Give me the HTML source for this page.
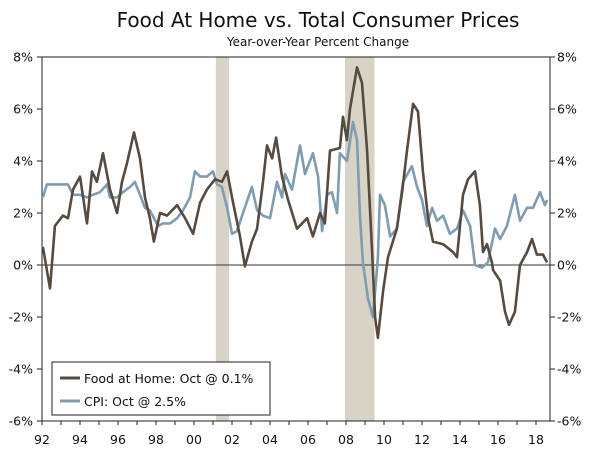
<!DOCTYPE html>
<html><head><meta charset="utf-8"><style>
body{margin:0;background:#fff;}
svg text{font-family:"DejaVu Sans","Liberation Sans",sans-serif;fill:#111;}
</style></head><body>
<svg id="chart" width="600" height="459" viewBox="0 0 600 459" xmlns="http://www.w3.org/2000/svg">
<text x="318" y="27" font-size="20" text-anchor="middle">Food At Home vs. Total Consumer Prices</text>
<text x="318" y="46" font-size="12" text-anchor="middle">Year-over-Year Percent Change</text>
<g id="rec"></g>
<g id="grid"></g>
<g id="series"></g>
<g>
<rect x="52" y="362" width="218" height="53" fill="#fff" stroke="#222" stroke-width="1"/>
<line x1="60" y1="378" x2="80" y2="378" stroke="#574a3f" stroke-width="3"/>
<text x="84" y="383" font-size="12.5">Food at Home: Oct @ 0.1%</text>
<line x1="60" y1="401" x2="80" y2="401" stroke="#7f9db1" stroke-width="3"/>
<text x="84" y="406" font-size="12.5">CPI: Oct @ 2.5%</text>
</g>
</svg>
<script>
const foodYears=[1992.05,1992.42,1992.68,1993.1,1993.37,1993.63,1994.0,1994.37,1994.63,1994.89,1995.21,1995.58,1995.95,1996.21,1996.47,1996.84,1997.16,1997.42,1997.68,1997.89,1998.21,1998.58,1999.11,1999.53,1999.95,2000.32,2000.68,2001.11,2001.47,2001.74,2002.0,2002.42,2002.68,2003.05,2003.32,2003.63,2003.84,2004.11,2004.32,2004.63,2004.95,2005.42,2005.95,2006.26,2006.63,2006.89,2007.16,2007.68,2007.84,2008.05,2008.21,2008.58,2008.84,2009.11,2009.37,2009.53,2009.68,2009.95,2010.21,2010.68,2010.95,2011.21,2011.53,2011.79,2012.05,2012.32,2012.58,2013.11,2013.63,2013.84,2014.16,2014.42,2014.79,2015.05,2015.21,2015.42,2015.68,2015.74,2016.11,2016.37,2016.58,2016.89,2017.16,2017.53,2017.79,2018.05,2018.37,2018.58];
const foodValues=[0.7,-0.9,1.5,1.9,1.8,2.9,3.4,1.6,3.6,3.2,4.3,2.9,2.0,3.2,3.9,5.1,4.1,2.6,1.8,0.9,2.0,1.9,2.3,1.8,1.2,2.4,2.9,3.3,3.2,3.6,2.6,1.1,-0.05,0.9,1.4,3.2,4.6,4.1,4.9,3.4,2.5,1.4,1.8,1.1,2.0,1.6,4.4,4.5,5.7,4.8,6.0,7.6,7.0,4.4,0.6,-2.0,-2.8,-1.0,0.3,1.4,2.8,4.4,6.2,5.9,3.6,1.8,0.9,0.8,0.5,0.3,2.7,3.3,3.6,2.3,0.5,0.8,0.1,-0.2,-0.6,-1.8,-2.3,-1.8,0.0,0.5,1.0,0.4,0.4,0.1];
const cpiYears=[1992.05,1992.26,1993.11,1993.37,1993.63,1994.0,1994.37,1994.68,1995.05,1995.42,1995.58,1995.95,1996.26,1996.63,1996.89,1997.16,1997.42,1997.68,1998.11,1998.37,1998.74,1999.11,1999.42,1999.79,2000.05,2000.32,2000.68,2001.0,2001.21,2001.47,2001.74,2002.0,2002.26,2002.58,2003.05,2003.32,2003.63,2004.0,2004.37,2004.63,2004.79,2005.16,2005.58,2005.84,2006.26,2006.53,2006.74,2007.0,2007.26,2007.53,2007.68,2008.05,2008.37,2008.58,2008.74,2008.89,2009.16,2009.42,2009.68,2009.79,2010.05,2010.32,2010.68,2011.0,2011.47,2011.74,2012.0,2012.26,2012.53,2012.79,2013.11,2013.47,2013.84,2014.16,2014.53,2014.79,2015.16,2015.47,2015.84,2016.11,2016.47,2016.89,2017.16,2017.53,2017.84,2018.21,2018.47,2018.58];
const cpiValues=[2.6,3.1,3.1,3.1,2.7,2.7,2.6,2.7,2.8,3.1,2.6,2.6,2.8,3.0,3.2,2.7,2.2,2.1,1.5,1.6,1.6,1.8,2.1,2.6,3.6,3.4,3.4,3.6,3.1,3.0,2.2,1.2,1.3,2.0,3.0,2.1,1.9,1.8,3.2,2.6,3.5,2.9,4.6,3.5,4.3,3.4,1.3,2.7,2.8,2.0,4.3,4.0,5.5,4.8,1.8,0.1,-1.3,-2.0,0.3,2.7,2.3,1.1,1.4,3.2,3.8,3.0,2.5,1.5,2.2,1.7,1.9,1.2,1.4,2.1,1.5,0.0,-0.1,0.1,1.4,1.0,1.5,2.7,1.7,2.2,2.2,2.8,2.3,2.5];
const recessions=[[2001.15,2001.85],[2007.95,2009.5]];
const yTicks=[8,6,4,2,0,-2,-4,-6];
const xTickYears=[1992,1994,1996,1998,2000,2002,2004,2006,2008,2010,2012,2014,2016,2018];
const xLabels=["92","94","96","98","00","02","04","06","08","10","12","14","16","18"];
const NS="http://www.w3.org/2000/svg";
const L=42,R=550,T=57,B=421;
function xs(y){return L+(y-1992)*19;}
function ys(v){return T+(8-v)*(B-T)/14;}
function mk(tag,attrs,parent){const e=document.createElementNS(NS,tag);for(const k in attrs)e.setAttribute(k,attrs[k]);parent.appendChild(e);return e;}
const rec=document.getElementById('rec');
recessions.forEach(r=>{const e=mk('rect',{x:xs(r[0]),y:T,width:xs(r[1])-xs(r[0]),height:B-T,fill:'#d8d3c7'},rec);

});
const g=document.getElementById('grid');
let a=mk('line',{x1:L,y1:T,x2:R,y2:T,stroke:'#222','stroke-width':1},g);

a=mk('line',{x1:L,y1:T,x2:L,y2:B,stroke:'#222','stroke-width':1},g);

a=mk('line',{x1:R,y1:T,x2:R,y2:B,stroke:'#222','stroke-width':1},g);

a=mk('line',{x1:L,y1:B,x2:R,y2:B,stroke:'#222','stroke-width':1},g);

a=mk('line',{x1:L,y1:ys(0),x2:R,y2:ys(0),stroke:'#333','stroke-width':1},g);

yTicks.forEach(v=>{const y=ys(v);
mk('line',{x1:L-5,y1:y,x2:L,y2:y,stroke:'#222'},g);
mk('line',{x1:R,y1:y,x2:R+5,y2:y,stroke:'#222'},g);
let t=mk('text',{x:L-9,y:y+4.5,'font-size':12.5,'text-anchor':'end'},g);t.textContent=v+'%';

t=mk('text',{x:R+7,y:y+4.5,'font-size':12.5},g);t.textContent=v+'%';
});
for(let yr=1992;yr<=2018;yr++){mk('line',{x1:xs(yr),y1:B,x2:xs(yr),y2:B+4,stroke:'#222'},g);}
xTickYears.forEach((yr,i)=>{const t=mk('text',{x:xs(yr),y:B+23,'font-size':12.5,'text-anchor':'middle'},g);t.textContent=xLabels[i];
});
const s=document.getElementById('series');
function line(xsArr,vals,color,name){const n=Math.min(xsArr.length,vals.length);const pts=[];for(let i=0;i<n;i++)pts.push((i?'L':'M')+xs(xsArr[i]).toFixed(1)+' '+ys(vals[i]).toFixed(1));
const p=mk('path',{d:pts.join(' '),fill:'none',stroke:color,'stroke-width':2.6,'stroke-linejoin':'round'},s);

}
line(cpiYears,cpiValues,'#7f9db1','cpi-line');
line(foodYears,foodValues,'#574a3f','food-at-home-line');
</script>
</body></html>
